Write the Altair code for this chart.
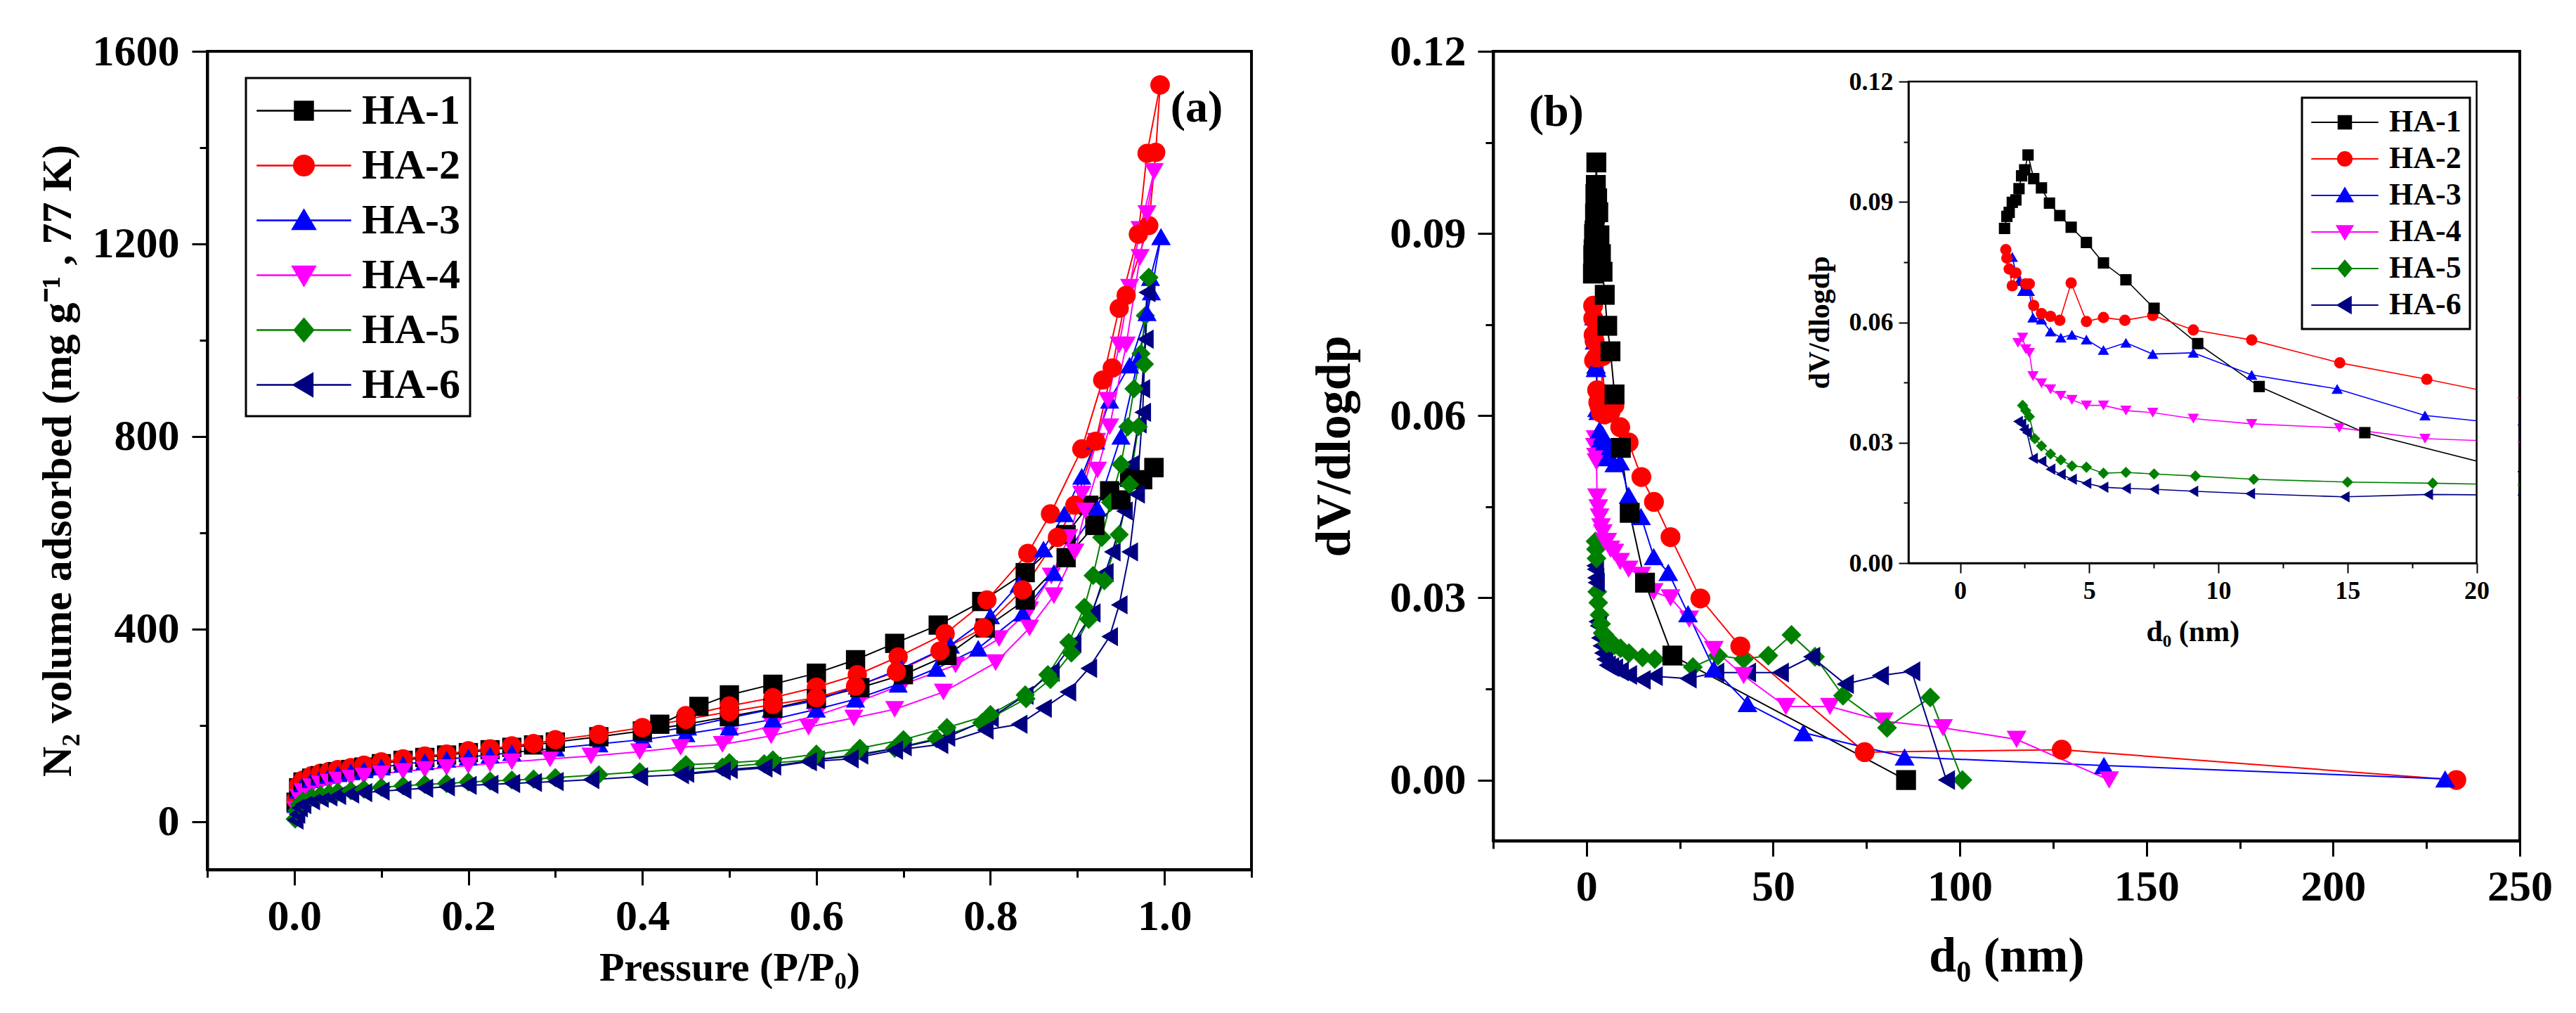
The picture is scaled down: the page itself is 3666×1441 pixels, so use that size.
import altair as alt
import pandas as pd

FONT = "Liberation Serif"
SERIES = ["HA-1", "HA-2", "HA-3", "HA-4", "HA-5", "HA-6"]
COLORS = ["#000000", "#FF0000", "#0000FF", "#FF00FF", "#008000", "#000080"]
SHAPES = ["square", "circle", "triangle-up", "triangle-down", "diamond", "triangle-left"]

# ---------------- (a) N2 isotherms: adsorption / desorption branches ----------------
HA1_ADS_P = [0.002, 0.005, 0.01, 0.02, 0.03, 0.04, 0.05, 0.065, 0.08, 0.1, 0.125, 0.15, 0.175, 0.2, 0.225, 0.25, 0.275, 0.3, 0.35, 0.4, 0.45, 0.5, 0.55, 0.6, 0.65, 0.7, 0.75, 0.794, 0.84, 0.887, 0.92, 0.95, 0.975, 0.988]
HA1_ADS_V = [40, 70, 82, 90, 95, 99, 103, 108, 113, 120, 127, 133, 138, 143, 149, 154, 159, 165, 176, 188, 202, 218, 235, 255, 278, 305, 345, 402, 460, 548, 615, 668, 710, 735]
HA1_DES_P = [0.988, 0.96, 0.937, 0.913, 0.887, 0.84, 0.79, 0.74, 0.69, 0.645, 0.6, 0.55, 0.5, 0.465, 0.42]
HA1_DES_V = [735, 715, 687, 657, 596, 517, 457, 408, 370, 336, 308, 285, 263, 239, 202]

HA2_ADS_P = [0.002, 0.005, 0.01, 0.02, 0.03, 0.04, 0.05, 0.065, 0.08, 0.1, 0.125, 0.15, 0.175, 0.2, 0.225, 0.25, 0.275, 0.3, 0.35, 0.4, 0.45, 0.5, 0.55, 0.6, 0.645, 0.692, 0.742, 0.792, 0.837, 0.877, 0.897, 0.921, 0.94, 0.956, 0.982, 0.99, 0.995]
HA2_ADS_V = [45, 75, 86, 95, 100, 104, 108, 112, 117, 124, 130, 136, 140, 147, 151, 157, 162, 170, 181, 195, 212, 228, 243, 257, 281, 311, 354, 402, 481, 590, 657, 790, 942, 1093, 1238, 1390, 1530]
HA2_DES_P = [0.995, 0.98, 0.97, 0.948, 0.929, 0.905, 0.869, 0.843, 0.796, 0.748, 0.694, 0.647, 0.6, 0.55, 0.5, 0.45]
HA2_DES_V = [1530, 1388, 1220, 1066, 917, 774, 639, 557, 460, 390, 342, 305, 279, 257, 240, 220]

HA3_ADS_P = [0.002, 0.005, 0.01, 0.02, 0.03, 0.04, 0.05, 0.065, 0.08, 0.1, 0.125, 0.15, 0.175, 0.2, 0.225, 0.25, 0.3, 0.35, 0.4, 0.45, 0.5, 0.55, 0.6, 0.645, 0.694, 0.738, 0.786, 0.837, 0.873, 0.923, 0.95, 0.97, 0.985, 0.996]
HA3_ADS_V = [35, 65, 78, 87, 92, 96, 99, 103, 107, 113, 119, 124, 129, 134, 138, 143, 152, 161, 170, 182, 196, 212, 233, 254, 285, 318, 360, 433, 517, 651, 800, 960, 1100, 1215]
HA3_DES_P = [0.996, 0.984, 0.98, 0.96, 0.937, 0.921, 0.905, 0.885, 0.861, 0.833, 0.8, 0.754, 0.698, 0.647, 0.599, 0.548, 0.5, 0.452, 0.401]
HA3_DES_V = [1215, 1130, 1057, 948, 875, 790, 717, 639, 566, 493, 427, 366, 318, 281, 251, 233, 215, 196, 182]

HA4_ADS_P = [0.002, 0.005, 0.01, 0.02, 0.03, 0.04, 0.05, 0.065, 0.08, 0.1, 0.125, 0.15, 0.175, 0.2, 0.225, 0.25, 0.294, 0.341, 0.397, 0.444, 0.492, 0.548, 0.591, 0.643, 0.69, 0.746, 0.806, 0.845, 0.873, 0.897, 0.909, 0.923, 0.937, 0.956, 0.972, 0.98, 0.988]
HA4_ADS_V = [25, 50, 62, 72, 78, 82, 86, 90, 94, 99, 104, 108, 112, 116, 120, 124, 130, 136, 145, 154, 160, 178, 196, 215, 233, 269, 330, 402, 469, 560, 645, 730, 820, 990, 1172, 1263, 1350]
HA4_DES_P = [0.988, 0.972, 0.96, 0.948, 0.935, 0.922, 0.905, 0.89, 0.87, 0.845, 0.81, 0.76, 0.7, 0.65, 0.6, 0.55, 0.5]
HA4_DES_V = [1350, 1230, 1110, 990, 875, 790, 680, 590, 510, 440, 380, 325, 285, 250, 220, 198, 178]

HA5_ADS_P = [0.001, 0.003, 0.006, 0.01, 0.02, 0.03, 0.04, 0.05, 0.065, 0.08, 0.1, 0.125, 0.15, 0.175, 0.2, 0.225, 0.25, 0.275, 0.3, 0.35, 0.397, 0.444, 0.492, 0.54, 0.595, 0.643, 0.69, 0.738, 0.79, 0.841, 0.869, 0.893, 0.913, 0.931, 0.948, 0.96, 0.97, 0.977, 0.982]
HA5_ADS_V = [5, 22, 35, 42, 50, 55, 58, 61, 64, 67, 71, 74, 77, 79, 82, 84, 86, 88, 91, 97, 103, 108, 113, 120, 128, 138, 152, 172, 205, 255, 295, 350, 420, 500, 596, 700, 820, 950, 1130]
HA5_DES_P = [0.982, 0.978, 0.973, 0.965, 0.958, 0.95, 0.938, 0.928, 0.918, 0.908, 0.89, 0.866, 0.84, 0.8, 0.75, 0.7, 0.65, 0.6, 0.55, 0.5, 0.45]
HA5_DES_V = [1130, 1051, 972, 899, 820, 742, 663, 590, 511, 445, 372, 305, 263, 222, 195, 170, 152, 140, 128, 122, 118]

HA6_ADS_P = [0.001, 0.003, 0.006, 0.01, 0.02, 0.03, 0.04, 0.05, 0.065, 0.08, 0.1, 0.125, 0.15, 0.175, 0.2, 0.225, 0.25, 0.275, 0.3, 0.341, 0.397, 0.444, 0.492, 0.54, 0.591, 0.639, 0.69, 0.742, 0.794, 0.833, 0.861, 0.889, 0.913, 0.937, 0.948, 0.96, 0.968, 0.975, 0.98]
HA6_ADS_V = [3, 15, 28, 35, 43, 48, 51, 54, 57, 60, 63, 66, 69, 72, 75, 77, 79, 81, 83, 87, 93, 97, 105, 111, 124, 130, 148, 160, 190, 202, 235, 269, 318, 384, 450, 560, 680, 850, 1099]
HA6_DES_P = [0.98, 0.978, 0.974, 0.97, 0.962, 0.954, 0.94, 0.932, 0.917, 0.895, 0.87, 0.84, 0.8, 0.75, 0.7, 0.65, 0.6, 0.55, 0.5, 0.45]
HA6_DES_V = [1099, 1002, 899, 826, 742, 645, 560, 517, 433, 370, 310, 262, 215, 175, 155, 138, 128, 115, 108, 100]

# ---------------- (b) pore size distribution ----------------
HA1_D = [1.72, 1.81, 1.90, 2.02, 2.16, 2.28, 2.38, 2.50, 2.63, 2.85, 3.15, 3.46, 3.86, 4.30, 4.89, 5.55, 6.42, 7.51, 9.20, 11.58, 15.67, 23.0, 85.6]
HA1_Y = [0.0834, 0.0864, 0.0874, 0.0899, 0.0905, 0.0933, 0.0965, 0.0980, 0.1017, 0.0958, 0.0935, 0.0897, 0.0866, 0.0837, 0.0799, 0.0748, 0.0706, 0.0635, 0.0547, 0.0440, 0.0325, 0.0205, 0.0]
HA2_D = [1.77, 1.81, 1.90, 2.02, 2.16, 2.54, 2.68, 2.85, 3.15, 3.50, 3.86, 4.30, 4.89, 5.55, 6.38, 7.46, 9.03, 11.29, 14.70, 18.07, 22.5, 30.5, 41.2, 74.5, 127.3, 233.0]
HA2_Y = [0.0781, 0.0760, 0.0733, 0.0691, 0.0723, 0.0696, 0.0696, 0.0642, 0.0622, 0.0615, 0.0605, 0.0698, 0.0602, 0.0612, 0.0605, 0.0617, 0.0581, 0.0556, 0.0499, 0.0458, 0.0400, 0.0299, 0.0220, 0.0046, 0.0050, 0.0]
HA3_D = [2.02, 2.16, 2.28, 2.42, 2.56, 2.68, 2.82, 3.15, 3.50, 3.90, 4.33, 4.89, 5.55, 6.42, 7.46, 9.03, 11.29, 14.60, 18.00, 21.9, 27.2, 34.1, 43.1, 58.1, 85.2, 138.6, 230.0]
HA3_Y = [0.0763, 0.0723, 0.0703, 0.0678, 0.0683, 0.0678, 0.0612, 0.0607, 0.0577, 0.0562, 0.0569, 0.0557, 0.0531, 0.0549, 0.0521, 0.0524, 0.0469, 0.0434, 0.0368, 0.0342, 0.0274, 0.0183, 0.0126, 0.0078, 0.0038, 0.0024, 0.0002]
HA4_D = [2.24, 2.42, 2.54, 2.68, 2.82, 3.15, 3.50, 3.90, 4.33, 4.89, 5.55, 6.42, 7.46, 9.03, 11.29, 14.68, 18.00, 22.5, 27.5, 34.1, 42.1, 53.4, 65.2, 79.6, 95.5, 115.2, 140.0]
HA4_Y = [0.0549, 0.0562, 0.0533, 0.0524, 0.0466, 0.0448, 0.0433, 0.0417, 0.0407, 0.0393, 0.0393, 0.0380, 0.0375, 0.0360, 0.0347, 0.0337, 0.0310, 0.0300, 0.0265, 0.0215, 0.0172, 0.0121, 0.0121, 0.0097, 0.0086, 0.0067, 0.0]
HA5_D = [2.42, 2.54, 2.68, 2.89, 3.15, 3.50, 3.90, 4.33, 4.89, 5.55, 6.42, 7.51, 9.11, 11.37, 15.00, 18.30, 28.5, 35.2, 42.1, 48.7, 54.9, 61.2, 68.7, 80.5, 92.1, 100.7]
HA5_Y = [0.0393, 0.0380, 0.0365, 0.0310, 0.0292, 0.0272, 0.0257, 0.0242, 0.0239, 0.0224, 0.0226, 0.0222, 0.0217, 0.0209, 0.0202, 0.0199, 0.0186, 0.0205, 0.0199, 0.0205, 0.0239, 0.0203, 0.0139, 0.0086, 0.0136, 0.0]
HA6_D = [2.24, 2.37, 2.47, 2.59, 2.82, 3.15, 3.50, 3.90, 4.33, 4.89, 5.55, 6.42, 7.51, 9.03, 11.23, 14.89, 18.12, 27.2, 34.6, 43.1, 51.9, 60.3, 69.3, 78.7, 87.1, 96.4]
HA6_Y = [0.0353, 0.0347, 0.0333, 0.0325, 0.0261, 0.0254, 0.0234, 0.0221, 0.0209, 0.0199, 0.0189, 0.0186, 0.0184, 0.0179, 0.0173, 0.0165, 0.0171, 0.0167, 0.0177, 0.0177, 0.0177, 0.0203, 0.0158, 0.0172, 0.0179, 0.0]

# ---------------- axes ----------------
LEFT_X_DOMAIN = [-0.1, 1.1]
LEFT_Y_DOMAIN = [-100, 1600]
LEFT_X_MAJOR = [0.0, 0.2, 0.4, 0.6, 0.8, 1.0]
LEFT_X_MINOR = [-0.1, 0.1, 0.3, 0.5, 0.7, 0.9, 1.1]
LEFT_Y_MAJOR = [0, 400, 800, 1200, 1600]
LEFT_Y_MINOR = [200, 600, 1000, 1400]
RIGHT_X_DOMAIN = [-25, 250]
RIGHT_Y_DOMAIN = [-0.01, 0.12]
RIGHT_X_MAJOR = [0, 50, 100, 150, 200, 250]
RIGHT_X_MINOR = [-25, 25, 75, 125, 175, 225]
RIGHT_Y_MAJOR = [0.0, 0.03, 0.06, 0.09, 0.12]
RIGHT_Y_MINOR = [0.015, 0.045, 0.075, 0.105]
INSET_X_DOMAIN = [-2, 20]
INSET_Y_DOMAIN = [0.0, 0.12]
INSET_X_MAJOR = [0, 5, 10, 15, 20]
INSET_X_MINOR = [2.5, 7.5, 12.5, 17.5]
INSET_Y_MAJOR = [0.0, 0.03, 0.06, 0.09, 0.12]
INSET_Y_MINOR = [0.015, 0.045, 0.075, 0.105]
INSET_X_LIMIT = 30
INSET_MASK_X2 = 21.59

LEFT_X_TITLE = "Pressure (P/P\u2080)"
LEFT_Y_TITLE = "N\u2082 volume adsorbed (mg g\u207b\u00b9 , 77 K)"
PSD_X_TITLE = "d\u2080 (nm)"
PSD_Y_TITLE = "dV/dlogdp"

LABEL_A = "(a)"
LABEL_A_POS = (1.037, 1482)
LABEL_B = "(b)"
LABEL_B_POS = (-8.1, 0.1099)

# layout (pixels)
LEFT_W, LEFT_H = 1486, 1164
RIGHT_W, RIGHT_H = 1461, 1123
GAP = 344
INSET_X_RANGE = [591, 1399.6]
INSET_Y_RANGE = [728, 43]

# legend symbols: a line with the marker in the middle
LINE = "M-2.17,0H2.17"
LEGEND_PATHS = [
    LINE + "M-0.42,-0.42H0.42V0.42H-0.42Z",
    LINE + "M0.46,0A0.46,0.46,0,1,1,-0.46,0A0.46,0.46,0,1,1,0.46,0Z",
    LINE + "M0,-0.48L0.52,0.4L-0.52,0.4Z",
    LINE + "M0,0.48L0.52,-0.4L-0.52,-0.4Z",
    LINE + "M0,-0.52L0.44,0L0,0.52L-0.44,0Z",
    LINE + "M-0.48,0L0.4,-0.52L0.4,0.52Z",
]

# ---------------- data frames ----------------
iso = {
    "HA-1": (HA1_ADS_P, HA1_ADS_V, HA1_DES_P, HA1_DES_V),
    "HA-2": (HA2_ADS_P, HA2_ADS_V, HA2_DES_P, HA2_DES_V),
    "HA-3": (HA3_ADS_P, HA3_ADS_V, HA3_DES_P, HA3_DES_V),
    "HA-4": (HA4_ADS_P, HA4_ADS_V, HA4_DES_P, HA4_DES_V),
    "HA-5": (HA5_ADS_P, HA5_ADS_V, HA5_DES_P, HA5_DES_V),
    "HA-6": (HA6_ADS_P, HA6_ADS_V, HA6_DES_P, HA6_DES_V),
}
rows = []
for s, (ap, av, dp, dv) in iso.items():
    for i, (p, v) in enumerate(zip(ap, av)):
        rows.append({"series": s, "branch": s + " ads", "idx": i, "x": p, "y": v})
    for i, (p, v) in enumerate(zip(dp, dv)):
        rows.append({"series": s, "branch": s + " des", "idx": i, "x": p, "y": v})
df_iso = pd.DataFrame(rows)

psd = {"HA-1": (HA1_D, HA1_Y), "HA-2": (HA2_D, HA2_Y), "HA-3": (HA3_D, HA3_Y),
       "HA-4": (HA4_D, HA4_Y), "HA-5": (HA5_D, HA5_Y), "HA-6": (HA6_D, HA6_Y)}
rows = []
for s, (ds, ys) in psd.items():
    for i, (d, y) in enumerate(zip(ds, ys)):
        rows.append({"series": s, "idx": i, "x": d, "y": y})
df_psd = pd.DataFrame(rows)
df_leg = pd.DataFrame({"series": SERIES})


def color_scale():
    return alt.Scale(domain=SERIES, range=COLORS)


def shape_scale():
    return alt.Scale(domain=SERIES, range=SHAPES)


def lin_scale(dom, rng=None):
    if rng is None:
        return alt.Scale(domain=dom, nice=False, zero=False)
    return alt.Scale(domain=dom, range=rng, nice=False, zero=False)


def major_axis(values, fmt, orient, label_size, title_size, label_pad, title_pad, tick, dom_w, tick_w, offset=0):
    return alt.Axis(values=values, format=fmt, orient=orient, offset=offset, grid=False,
                    labelFontSize=label_size, titleFontSize=title_size,
                    labelPadding=label_pad, titlePadding=title_pad, tickSize=tick,
                    labelOverlap=False, labelFlush=False, labelBound=False,
                    domainWidth=dom_w, tickWidth=tick_w)


def minor_axis(values, orient, tick, tick_w, offset=0):
    return alt.Axis(values=values, orient=orient, offset=offset, grid=False, labels=False,
                    domain=False, title=None, tickSize=tick, tickWidth=tick_w)


def minor_layer(xdom, ydom, xaxis, yaxis, xrange=None, yrange=None):
    df = pd.DataFrame({"x": [xdom[0]], "y": [ydom[0]]})
    return alt.Chart(df).mark_point(opacity=0).encode(
        x=alt.X("x:Q", scale=lin_scale(xdom, xrange), axis=xaxis),
        y=alt.Y("y:Q", scale=lin_scale(ydom, yrange), axis=yaxis))


def legend_layer(**props):
    leg = alt.Legend(orient="none", title=None, labelFont=FONT, labelFontWeight="bold",
                     labelColor="black", labelLimit=500, symbolOpacity=1,
                     strokeColor="black", fillColor="white", **props)
    return alt.Chart(df_leg).transform_filter("false").mark_point(filled=True, opacity=1).encode(
        fill=alt.Fill("series:N", scale=alt.Scale(domain=SERIES, range=COLORS), legend=leg),
        stroke=alt.Stroke("series:N", scale=alt.Scale(domain=SERIES, range=COLORS), legend=leg),
        shape=alt.Shape("series:N", scale=alt.Scale(domain=SERIES, range=LEGEND_PATHS), legend=leg),
    )


def series_layers(df, X, Y, size, sw, clip=False, filt=None):
    base = alt.Chart(df)
    if filt:
        base = base.transform_filter(filt)
    base = base.encode(x=X, y=Y, color=alt.Color("series:N", scale=color_scale(), legend=None),
                       detail="branch:N" if "branch" in df.columns else "series:N", order="idx:Q")
    lines = base.mark_line(strokeWidth=sw, clip=clip)
    pts = base.mark_point(filled=True, size=size, opacity=1, strokeWidth=0, clip=clip).encode(
        shape=alt.Shape("series:N", scale=shape_scale(), legend=None))
    return [lines, pts]


def label_layer(text, pos, X, Y):
    df = pd.DataFrame({"x": [pos[0]], "y": [pos[1]], "t": [text]})
    return alt.Chart(df).mark_text(font=FONT, fontSize=64, fontWeight="bold", color="black",
                                   align="center", baseline="middle").encode(x=X, y=Y, text="t:N")


def rect_layer(df, X, Y, **mark):
    return alt.Chart(df).mark_rect(**mark).encode(x=X, x2="x2:Q", y=Y, y2="y2:Q")


ALL_INDEP = dict(x="independent", y="independent", color="independent", shape="independent",
                 fill="independent", stroke="independent")

# ---------------- left panel ----------------
LX = alt.X("x:Q", scale=lin_scale(LEFT_X_DOMAIN), title=LEFT_X_TITLE,
           axis=major_axis(LEFT_X_MAJOR, ".1f", "bottom", 62, 58, 14, 14, 22, 4, 3))
LY = alt.Y("y:Q", scale=lin_scale(LEFT_Y_DOMAIN), title=LEFT_Y_TITLE,
           axis=major_axis(LEFT_Y_MAJOR, "d", "left", 62, 60, 18, 18, 22, 4, 3))
l_data = alt.layer(*series_layers(df_iso, LX, LY, 750, 2), label_layer(LABEL_A, LABEL_A_POS, LX, LY))
l_minor = minor_layer(LEFT_X_DOMAIN, LEFT_Y_DOMAIN,
                      minor_axis(LEFT_X_MINOR, "bottom", 11, 3), minor_axis(LEFT_Y_MINOR, "left", 11, 3))
l_legend = legend_layer(legendX=55, legendY=38, symbolSize=3844, symbolStrokeWidth=2.5,
                        symbolOffset=36, labelOffset=50, labelFontSize=60, rowPadding=15, padding=14)
left = alt.layer(l_data, l_minor, l_legend).resolve_scale(**ALL_INDEP).properties(width=LEFT_W, height=LEFT_H)

# ---------------- right panel (main) ----------------
RX = alt.X("x:Q", scale=lin_scale(RIGHT_X_DOMAIN), title=PSD_X_TITLE,
           axis=major_axis(RIGHT_X_MAJOR, "d", "bottom", 62, 70, 13, 34, 22, 4, 3))
RY = alt.Y("y:Q", scale=lin_scale(RIGHT_Y_DOMAIN), title=PSD_Y_TITLE,
           axis=major_axis(RIGHT_Y_MAJOR, ".2f", "left", 62, 70, 17, 42, 22, 4, 3))
r_data = alt.layer(*series_layers(df_psd, RX, RY, 800, 2), label_layer(LABEL_B, LABEL_B_POS, RX, RY))
r_minor = minor_layer(RIGHT_X_DOMAIN, RIGHT_Y_DOMAIN,
                      minor_axis(RIGHT_X_MINOR, "bottom", 11, 3), minor_axis(RIGHT_Y_MINOR, "left", 11, 3))

# ---------------- inset ----------------
IX_OFF = -(RIGHT_H - INSET_Y_RANGE[0])
IY_OFF = -INSET_X_RANGE[0]
IX = alt.X("x:Q", scale=lin_scale(INSET_X_DOMAIN, INSET_X_RANGE), title=PSD_X_TITLE,
           axis=major_axis(INSET_X_MAJOR, "d", "bottom", 36, 42, 8, 20, 14, 2.5, 2, offset=IX_OFF))
IY = alt.Y("y:Q", scale=lin_scale(INSET_Y_DOMAIN, INSET_Y_RANGE), title=PSD_Y_TITLE,
           axis=major_axis(INSET_Y_MAJOR, ".2f", "left", 36, 42, 8, 20, 14, 2.5, 2, offset=IY_OFF))
box = pd.DataFrame({"x": [INSET_X_DOMAIN[0]], "x2": [INSET_X_DOMAIN[1]],
                    "y": [INSET_Y_DOMAIN[0]], "y2": [INSET_Y_DOMAIN[1]]})
mask = pd.DataFrame({"x": [INSET_X_DOMAIN[1]], "x2": [INSET_MASK_X2],
                     "y": [INSET_Y_DOMAIN[0]], "y2": [INSET_Y_DOMAIN[1]]})
i_data = alt.layer(
    *series_layers(df_psd, IX, IY, 260, 1.6, clip=True, filt=f"datum.x <= {INSET_X_LIMIT}"),
    rect_layer(mask, IX, IY, color="white", clip=True),
    rect_layer(box, IX, IY, filled=False, stroke="black", strokeWidth=2.5),
)
i_minor = minor_layer(INSET_X_DOMAIN, INSET_Y_DOMAIN,
                      minor_axis(INSET_X_MINOR, "bottom", 7, 2, offset=IX_OFF),
                      minor_axis(INSET_Y_MINOR, "left", 7, 2, offset=IY_OFF),
                      xrange=INSET_X_RANGE, yrange=INSET_Y_RANGE)
i_legend = legend_layer(legendX=1151, legendY=66, symbolSize=1936, symbolStrokeWidth=2,
                        symbolOffset=26, labelOffset=40, labelFontSize=44, rowPadding=7, padding=12)

right = alt.layer(r_data, r_minor, i_data, i_minor, i_legend).resolve_scale(**ALL_INDEP).properties(
    width=RIGHT_W, height=RIGHT_H)

chart = alt.hconcat(left, right, spacing=GAP, bounds="flush").properties(
    padding={"left": 50, "top": 40, "right": 30, "bottom": 10}, background="white"
).configure_view(stroke="black", strokeWidth=4).configure_axis(
    labelFont=FONT, titleFont=FONT, labelFontWeight="bold", titleFontWeight="bold",
    labelColor="black", titleColor="black", domainColor="black", tickColor="black"
).configure_legend(strokeWidth=3)

chart.save("out.html", embed_options={"renderer": "svg", "actions": False})
